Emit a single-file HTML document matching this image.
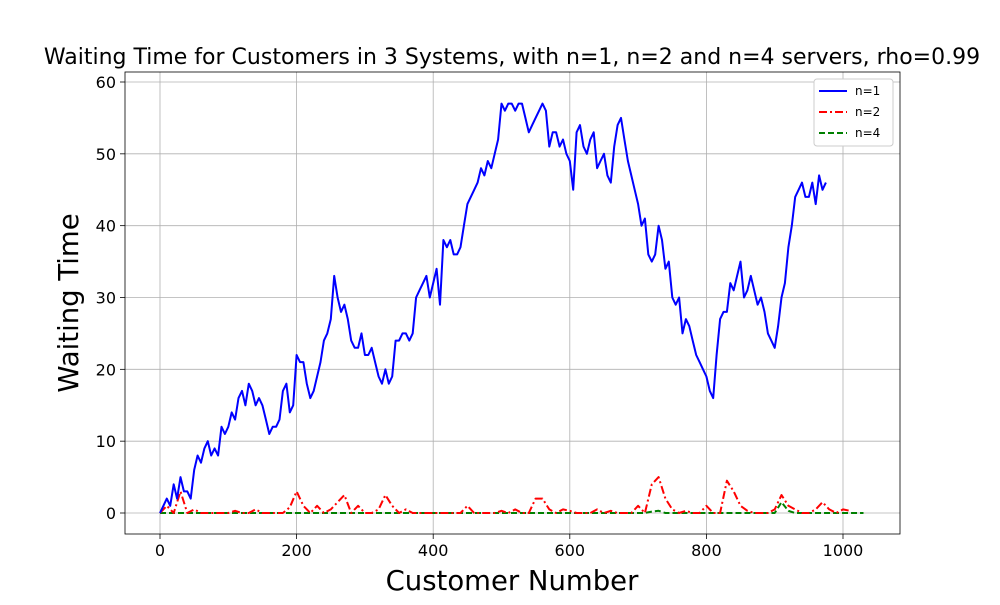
<!DOCTYPE html>
<html><head><meta charset="utf-8"><style>
body{margin:0;background:#fff;font-family:"Liberation Sans","DejaVu Sans",sans-serif}
</style></head><body>
<svg id="c" width="1000" height="600" font-family="DejaVu Sans, Liberation Sans, sans-serif"></svg>
<script>
const ticksX=[0,200,400,600,800,1000];
const ticksY=[0,10,20,30,40,50,60];
const n1Values=[0,1,2,1,4,2,5,3,3,2,6,8,7,9,10,8,9,8,12,11,
12,14,13,16,17,15,18,17,15,16,15,13,11,12,12,13,17,18,14,15,
22,21,21,18,16,17,19,21,24,25,27,33,30,28,29,27,24,23,23,25,
22,22,23,21,19,18,20,18,19,24,24,25,25,24,25,30,31,32,33,30,
32,34,29,38,37,38,36,36,37,40,43,44,45,46,48,47,49,48,50,52,
57,56,57,57,56,57,57,55,53,54,55,56,57,56,51,53,53,51,52,50,
49,45,53,54,51,50,52,53,48,49,50,47,46,51,54,55,52,49,47,45,
43,40,41,36,35,36,40,38,34,35,30,29,30,25,27,26,24,22,21,20,
19,17,16,22,27,28,28,32,31,33,35,30,31,33,31,29,30,28,25,24,
23,26,30,32,37,40,44,45,46,44,44,46,43,47,45,46];
const n1Step=5;
const n2Values=[0,1,0,3,0,0.5,0,0,0,0,0,0.3,0,0,0.5,0,0,0,0,0.8,3,1,0,1,0,0.5,1.5,2.5,0,1,0,0,0.5,2.5,1,0,0.5,0,0,0,0,0,0,0,0,1,0,0,0,0,0.3,0,0.5,0,0,2,2,0.5,0,0.5,0.3,0,0,0,0.5,0,0.3,0,0,0,1,0,4,5,2,0.5,0,0.3,0,0,1,0,0,4.5,3,1,0.3,0,0,0,0.5,2.5,1,0.5,0,0,0.5,1.5,0.5,0,0.5,0.3];
const n4Values=[0,0,0,0,0,0,0,0,0,0,0,0,0,0,0,0,0,0,0,0,0,0,0,0,0,0,0,0,0,0,0,0,0,0,0,0,0,0,0,0,0,0,0,0,0,0,0,0,0,0,0,0,0,0,0,0,0,0,0,0,0,0,0,0,0,0,0,0,0,0,0,0,0.2,0.3,0,0,0,0,0,0,0,0,0,0,0,0,0,0,0,0,0,1.5,0.3,0,0,0,0,0,0,0,0,0,0,0];
const step=10;
const X0=125,X1=900,Y0=72,Y1=534;
const xs=c=>160+c*(843-160)/1000;
const ys=v=>513-v*(513-82)/60;
const svg=document.getElementById('c');
const NS='http://www.w3.org/2000/svg';
function mk(t,a,p){const e=document.createElementNS(NS,t);for(const k in a)e.setAttribute(k,a[k]);(p||svg).appendChild(e);return e;}
let e;
e=mk('rect',{x:X0,y:Y0,width:X1-X0,height:Y1-Y0,fill:'#fff'});


ticksX.forEach(t=>{const x=xs(t);
e=mk('line',{x1:x,x2:x,y1:Y0,y2:Y1,stroke:'#b0b0b0','stroke-width':0.8});


mk('line',{x1:x,x2:x,y1:Y1,y2:Y1+5,stroke:'#000','stroke-width':0.8});
e=mk('text',{x:x,y:Y1+22,'text-anchor':'middle','font-size':16});e.textContent=t;

});
ticksY.forEach(t=>{const y=ys(t);
e=mk('line',{x1:X0,x2:X1,y1:y,y2:y,stroke:'#b0b0b0','stroke-width':0.8});


mk('line',{x1:X0-5,x2:X0,y1:y,y2:y,stroke:'#000','stroke-width':0.8});
e=mk('text',{x:X0-9,y:y+6,'text-anchor':'end','font-size':16});e.textContent=t;

});
function series(vals,st,color,dash,name){
const pts=vals.map((v,i)=>xs(i*st).toFixed(1)+','+ys(v).toFixed(1)).join(' ');
e=mk('polyline',{points:pts,fill:'none',stroke:color,'stroke-width':2,'stroke-dasharray':dash,'stroke-linejoin':'round'});

}
series(n4Values,step,'#008000','6,3','series-n4');
series(n2Values,step,'#ff0000','8,3,2,3','series-n2');
series(n1Values,n1Step,'#0000ff','','series-n1');
e=mk('rect',{x:X0,y:Y0,width:X1-X0,height:Y1-Y0,fill:'none',stroke:'#000','stroke-width':0.8});


e=mk('text',{x:512,y:64,'text-anchor':'middle','font-size':22});e.textContent='Waiting Time for Customers in 3 Systems, with n=1, n=2 and n=4 servers, rho=0.99';


e=mk('text',{x:512,y:590,'text-anchor':'middle','font-size':27.5});e.textContent='Customer Number';


e=mk('text',{x:78,y:303,'text-anchor':'middle','font-size':27.5,transform:'rotate(-90 78 303)'});e.textContent='Waiting Time';


const lg=mk('g',{});


mk('rect',{x:814,y:79,width:79,height:67,rx:3,fill:'#fff',stroke:'#ccc','stroke-width':1},lg);
[['n=1','#0000ff',''],['n=2','#ff0000','8,3,2,3'],['n=4','#008000','6,3']].forEach((d,i)=>{const y=91+i*21;
mk('line',{x1:819,x2:847,y1:y,y2:y,stroke:d[1],'stroke-width':2,'stroke-dasharray':d[2]},lg);
e=mk('text',{x:855,y:y+4,'font-size':12},lg);e.textContent=d[0];

});
</script></body></html>
